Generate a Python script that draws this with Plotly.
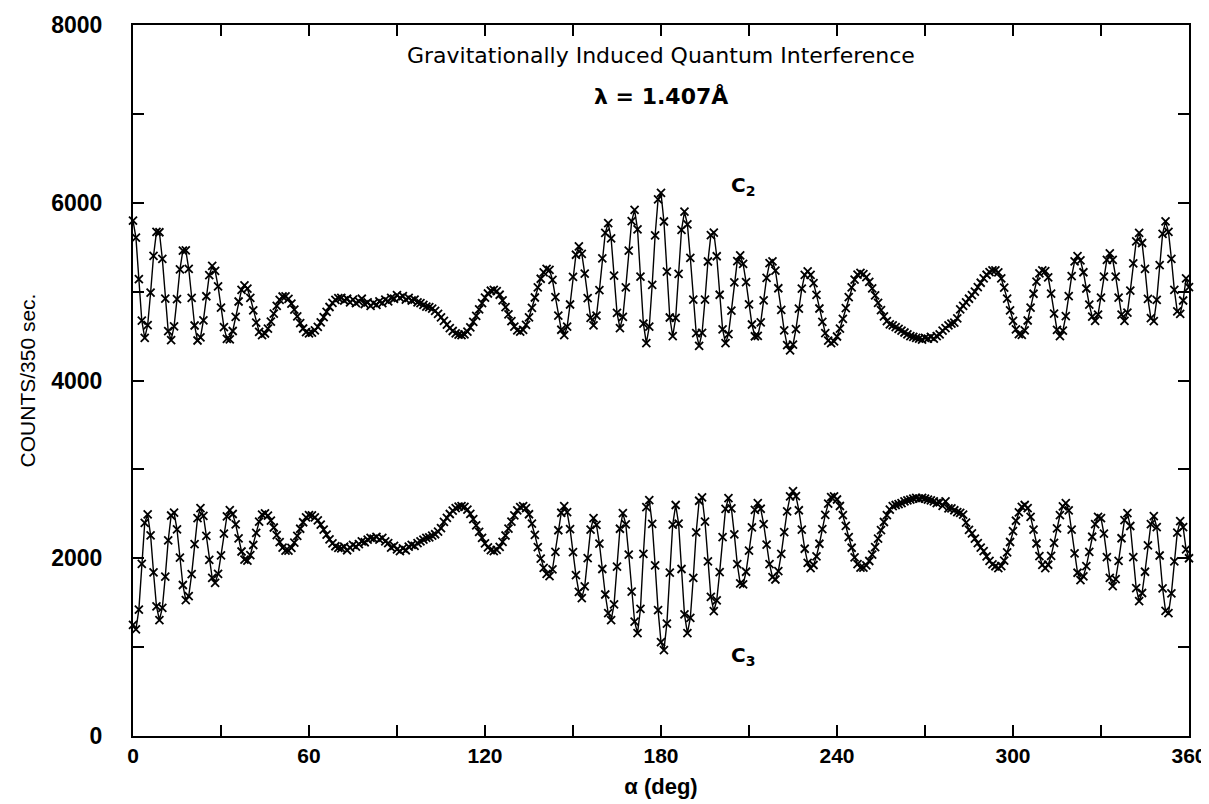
import plotly.graph_objects as go

# Rotation angle alpha (deg), sampled every degree
alpha = list(range(0, 361))

# Detector C2 counts per 350 s (upper curve)
c2_counts = [
    5800, 5607, 5140, 4673, 4480, 4624, 4988, 5402, 5673, 5668,
    5368, 4921, 4555, 4455, 4609, 4916, 5250, 5462, 5463, 5257,
    4930, 4619, 4450, 4484, 4677, 4948, 5185, 5289, 5234, 5059,
    4821, 4600, 4468, 4462, 4557, 4716, 4889, 5020, 5070, 5033,
    4930, 4790, 4650, 4547, 4510, 4529, 4583, 4662, 4753, 4840,
    4908, 4945, 4946, 4918, 4866, 4798, 4721, 4646, 4585, 4544,
    4530, 4539, 4564, 4604, 4655, 4712, 4772, 4827, 4874, 4908,
    4927, 4930, 4900, 4920, 4880, 4910, 4870, 4890, 4920, 4860,
    4880, 4840, 4870, 4850, 4890, 4870, 4910, 4890, 4930, 4920,
    4960, 4930, 4950, 4910, 4930, 4900, 4910, 4880, 4870, 4850,
    4830, 4825, 4809, 4783, 4750, 4711, 4670, 4629, 4590, 4557,
    4531, 4515, 4510, 4520, 4550, 4598, 4659, 4728, 4801, 4871,
    4932, 4979, 5010, 5020, 5006, 4965, 4902, 4826, 4744, 4667,
    4605, 4564, 4550, 4569, 4625, 4711, 4818, 4934, 5048, 5145,
    5217, 5255, 5245, 5131, 4939, 4730, 4571, 4510, 4605, 4855,
    5165, 5415, 5510, 5425, 5203, 4927, 4705, 4620, 4729, 5017,
    5373, 5661, 5770, 5598, 5180, 4762, 4590, 4716, 5049, 5461,
    5794, 5920, 5701, 5170, 4639, 4420, 4605, 5077, 5634, 6037,
    6110, 5789, 5225, 4709, 4500, 4704, 5200, 5696, 5900, 5757,
    5379, 4911, 4533, 4390, 4535, 4909, 5339, 5636, 5665, 5398,
    4965, 4576, 4420, 4522, 4787, 5104, 5344, 5407, 5311, 5108,
    4856, 4630, 4498, 4501, 4653, 4901, 5155, 5320, 5340, 5236,
    5038, 4795, 4564, 4399, 4340, 4403, 4577, 4809, 5034, 5188,
    5229, 5188, 5096, 4964, 4810, 4660, 4534, 4449, 4420, 4439,
    4495, 4583, 4693, 4815, 4937, 5047, 5135, 5191, 5210, 5198,
    5163, 5109, 5037, 4957, 4873, 4793, 4721, 4668, 4632, 4620,
    4600, 4580, 4560, 4540, 4520, 4500, 4490, 4480, 4470, 4460,
    4480, 4470, 4490, 4470, 4500, 4520, 4560, 4590, 4620, 4640,
    4650, 4700, 4800, 4840, 4880, 4920, 4960, 5000, 5050, 5100,
    5150, 5190, 5220, 5240, 5240, 5217, 5149, 5046, 4921, 4790,
    4671, 4576, 4522, 4513, 4565, 4675, 4820, 4976, 5113, 5206,
    5240, 5230, 5161, 4978, 4752, 4569, 4500, 4560, 4725, 4950,
    5175, 5340, 5400, 5351, 5218, 5035, 4853, 4719, 4670, 4742,
    4932, 5168, 5358, 5430, 5358, 5168, 4932, 4742, 4670, 4764,
    5012, 5318, 5566, 5660, 5547, 5255, 4919, 4702, 4668, 4908,
    5299, 5649, 5790, 5673, 5369, 5020, 4778, 4750, 4900, 5150,
    5050,
]

# Detector C3 counts per 350 s (lower curve)
c3_counts = [
    1250, 1200, 1422, 1937, 2397, 2494, 2257, 1840, 1459, 1305,
    1441, 1794, 2200, 2481, 2513, 2325, 2007, 1699, 1528, 1575,
    1821, 2159, 2452, 2565, 2478, 2252, 1982, 1778, 1724, 1824,
    2032, 2277, 2470, 2542, 2498, 2381, 2223, 2076, 1984, 1974,
    2036, 2149, 2285, 2411, 2491, 2506, 2479, 2423, 2346, 2261,
    2181, 2119, 2085, 2085, 2117, 2175, 2251, 2332, 2405, 2459,
    2484, 2482, 2461, 2426, 2378, 2323, 2266, 2213, 2167, 2135,
    2117, 2110, 2130, 2090, 2120, 2150, 2130, 2160, 2190, 2180,
    2210, 2230, 2220, 2240, 2210, 2230, 2190, 2170, 2120, 2140,
    2100, 2080, 2110, 2090, 2130, 2150, 2140, 2170, 2190, 2210,
    2230, 2236, 2254, 2270, 2300, 2340, 2409, 2455, 2498, 2535,
    2563, 2581, 2587, 2577, 2547, 2500, 2439, 2370, 2298, 2229,
    2168, 2122, 2091, 2081, 2093, 2129, 2185, 2256, 2334, 2412,
    2483, 2539, 2575, 2587, 2563, 2495, 2390, 2262, 2125, 1997,
    1892, 1823, 1800, 1875, 2072, 2315, 2512, 2587, 2518, 2328,
    2070, 1811, 1621, 1552, 1683, 2002, 2321, 2452, 2375, 2165,
    1879, 1592, 1382, 1305, 1481, 1907, 2332, 2508, 2380, 2042,
    1624, 1286, 1158, 1430, 2050, 2575, 2653, 2386, 1921, 1416,
    1056, 966, 1265, 1839, 2379, 2599, 2389, 1879, 1368, 1158,
    1330, 1778, 2292, 2647, 2685, 2411, 1966, 1566, 1406, 1527,
    1844, 2238, 2556, 2677, 2561, 2268, 1935, 1717, 1706, 1848,
    2087, 2347, 2545, 2621, 2557, 2383, 2153, 1933, 1787, 1761,
    1855, 2049, 2293, 2528, 2695, 2756, 2698, 2540, 2323, 2107,
    1948, 1890, 1924, 2021, 2163, 2328, 2488, 2614, 2688, 2697,
    2661, 2588, 2486, 2365, 2237, 2118, 2011, 1935, 1895, 1894,
    1919, 1969, 2040, 2125, 2220, 2316, 2408, 2486, 2547, 2586,
    2599, 2610, 2620, 2640, 2650, 2660, 2670, 2680, 2670, 2680,
    2670, 2660, 2650, 2640, 2620, 2630, 2590, 2640, 2560, 2560,
    2540, 2520, 2510, 2490, 2400, 2320, 2280, 2220, 2170, 2120,
    2080, 2020, 1970, 1930, 1910, 1890, 1911, 1973, 2067, 2183,
    2306, 2422, 2516, 2578, 2599, 2564, 2466, 2323, 2166, 2023,
    1925, 1890, 1927, 2027, 2174, 2337, 2484, 2584, 2621, 2539,
    2322, 2054, 1837, 1755, 1796, 1911, 2071, 2242, 2385, 2465,
    2451, 2278, 2012, 1779, 1687, 1765, 1970, 2225, 2430, 2508,
    2363, 2013, 1663, 1518, 1609, 1848, 2145, 2384, 2475, 2351,
    2031, 1662, 1407, 1382, 1604, 1965, 2288, 2418, 2350, 2100,
    2000,
]

x_tickvals = [0, 60, 120, 180, 240, 300, 360]
x_ticktext = ["0", "60", "120", "180", "240", "300", "360"]
y_tickvals = [0, 2000, 4000, 6000, 8000]
y_ticktext = ["0", "2000", "4000", "6000", "8000"]

title_text = "Gravitationally Induced Quantum Interference"
lambda_text = "<b>λ = 1.407Å</b>"

FONT = "DejaVu Sans"
TICKFONT = "Liberation Sans"

fig = go.Figure()
for ys in (c2_counts, c3_counts):
    fig.add_trace(go.Scatter(
        x=alpha, y=ys, mode="lines+markers",
        line=dict(color="black", width=1.4),
        marker=dict(symbol="x-thin", size=8, line=dict(color="black", width=1.8)),
        cliponaxis=False, showlegend=False,
    ))

fig.update_layout(
    width=1209, height=804,
    margin=dict(l=125, r=28, t=17, b=76),
    paper_bgcolor="white", plot_bgcolor="white",
    font=dict(family=FONT, color="black"),
    annotations=[
        dict(x=180, y=7660, xref="x", yref="y", text=title_text, showarrow=False,
             font=dict(family=FONT, size=22, color="black")),
        dict(x=180, y=7200, xref="x", yref="y", text=lambda_text, showarrow=False,
             font=dict(family=FONT, size=22, color="black")),
        dict(x=208, y=6190, xref="x", yref="y", text="<b>C<sub>2</sub></b>", showarrow=False,
             font=dict(family=FONT, size=20, color="black")),
        dict(x=208, y=900, xref="x", yref="y", text="<b>C<sub>3</sub></b>", showarrow=False,
             font=dict(family=FONT, size=20, color="black")),
    ],
)

fig.update_xaxes(
    range=[0, 360], tickvals=x_tickvals, ticktext=x_ticktext, automargin=False,
    ticks="inside", ticklen=11, tickwidth=1.5, tickcolor="black",
    minor=dict(dtick=30, tick0=0, ticks="inside", ticklen=11, tickwidth=1.5, tickcolor="black"),
    showline=True, linewidth=2, linecolor="black", mirror="ticks",
    showgrid=False, zeroline=False,
    tickfont=dict(family=TICKFONT, size=21, color="black", weight="bold"),
    title=dict(text="α (deg)", font=dict(family=TICKFONT, size=22, color="black", weight="bold"),
               standoff=12),
)
fig.update_yaxes(
    range=[0, 8000], tickvals=y_tickvals, ticktext=y_ticktext, automargin=False,
    ticks="inside", ticklen=11, tickwidth=1.5, tickcolor="black",
    minor=dict(dtick=1000, tick0=0, ticks="inside", ticklen=11, tickwidth=1.5, tickcolor="black"),
    showline=True, linewidth=2, linecolor="black", mirror="ticks",
    showgrid=False, zeroline=False,
    tickfont=dict(family=TICKFONT, size=23, color="black", weight="bold"),
    ticklabelstandoff=24,
    title=dict(text="COUNTS/350 sec.", font=dict(family=TICKFONT, size=21, color="black"),
               standoff=10),
)

fig.write_html("out.html")
